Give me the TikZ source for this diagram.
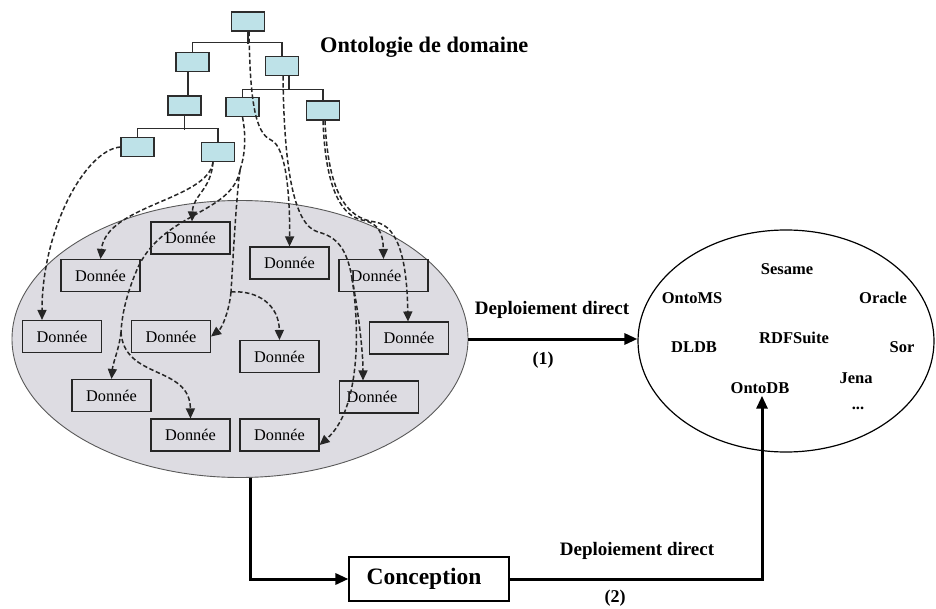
\documentclass[tikz,border=0pt]{standalone}
\usepackage{fontspec}
\setmainfont{Liberation Serif}
\usetikzlibrary{arrows.meta,shapes.geometric}
\definecolor{ellgray}{RGB}{221,220,226}
\definecolor{treeblue}{RGB}{190,226,232}
\definecolor{linegray}{RGB}{45,45,45}
\begin{document}
\begin{tikzpicture}[x=1pt,y=-1pt,
  tbox/.style={draw=linegray,line width=1.1pt,fill=treeblue,minimum width=33pt,minimum height=19pt,inner sep=0pt},
  tline/.style={draw=linegray,line width=1.1pt},
  dbox/.style={draw=black!85,line width=1.1pt,minimum width=79pt,minimum height=32pt,inner sep=0pt,font=\fontsize{16.3}{18}\selectfont},
  dlink/.style={draw=black!85,line width=1.5pt,dash pattern=on 4.5pt off 2.5pt,-{Triangle[length=10pt,width=9pt]}},
  dline/.style={draw=black!85,line width=1.5pt,dash pattern=on 4.5pt off 2.5pt},
  bigarrow/.style={draw=black,line width=3pt,-{Triangle[length=13pt,width=11pt]}},
  lbl/.style={font=\bfseries\fontsize{16.5}{19}\selectfont,inner sep=0pt},
]
\useasboundingbox (0,0) rectangle (936,609);

% ellipses
\node[ellipse,draw=black!65,line width=0.9pt,fill=ellgray,minimum width=456pt,minimum height=277pt,inner sep=0pt] (E1) at (240,339) {};
\node[ellipse,draw=black,line width=1.2pt,fill=white,minimum width=296pt,minimum height=222pt,inner sep=0pt] (E2) at (786,341) {};

% data boxes
\node[dbox] (d1) at (190.5,238) {Donnée};
\node[dbox] (d2) at (100.5,275.5) {Donnée};
\node[dbox] (d3) at (289.5,263) {Donnée};
\node[dbox,minimum width=89pt] (d4) at (383.5,275.5) {Donnée\hspace*{15pt}};
\node[dbox] (d5) at (62,336.5) {Donnée};
\node[dbox] (d6) at (171,336.5) {Donnée};
\node[dbox] (d7) at (279.5,356.5) {Donnée};
\node[dbox] (d8) at (409,338) {Donnée};
\node[dbox] (d9) at (111.5,395.5) {Donnée};
\node[dbox] (d10) at (379,397) {Donnée\hspace*{14pt}};
\node[dbox] (d11) at (190.5,435) {Donnée};
\node[dbox] (d12) at (279.5,435) {Donnée};

% ontology tree
\node[tbox] (r) at (248,21.5) {};
\node[tbox] (a) at (192.5,62) {};
\node[tbox] (b) at (282,66) {};
\node[tbox] (a1) at (184.5,105.5) {};
\node[tbox] (b1) at (242.5,107) {};
\node[tbox] (b2) at (323,110.5) {};
\node[tbox] (a11) at (137.5,147) {};
\node[tbox] (a12) at (218,152) {};

\draw[tline] (r.south) -- ++(0,12);
\draw[tline] (a.north) -- ++(0,-9) -| (b.north);
\draw[tline] ([xshift=-4.5pt]a.south) -- ([xshift=-4.5pt]a.south |- a1.north);
\draw[tline] (a1.south) -- ++(0,14);
\draw[tline] (a11.north) -- ++(0,-8) -| (a12.north);
\draw[tline] ([xshift=7pt]b.south) -- ++(0,14);
\draw[tline] (b1.north) -- ++(0,-7) -| (b2.north);

\node[font=\bfseries\fontsize{22.3}{26}\selectfont,anchor=west,inner sep=0pt] (title) at (320,47) {Ontologie de domaine};

% junction coordinates
\coordinate (J1) at (240,170);
\coordinate (J2) at (231,292);
\coordinate (J3) at (121,332);
\coordinate (W1) at (271,140);
\coordinate (J4) at (352,278);

% dashed links
\draw[dlink] (a11.west) .. controls (85,150) and (42,230) .. ([xshift=-20pt]d5.north);
\draw[dlink] ([xshift=-5pt]a12.south) .. controls (211,190) and (193,195) .. ([xshift=1.5pt]d1.north);
\draw[dlink] ([xshift=-5pt]a12.south) .. controls (208,200) and (106,205) .. (d2.north);

\draw[dline] (b1.south) .. controls (247,140) and (244,158) .. (J1);
\draw[dline] (J1) .. controls (236,200) and (233,260) .. (J2);
\draw[dlink] (J2) .. controls (229,312) and (222,328) .. (d6.east);
\draw[dlink] (J2) .. controls (258,290) and (279,305) .. (d7.north);
\draw[dline] (J1) .. controls (232,215) and (160,212) .. (136,272) .. controls (126,296) and (122,315) .. (J3);
\draw[dlink] (J3) .. controls (119,350) and (113,362) .. (d9.north);
\draw[dlink] (J3) .. controls (124,380) and (190,365) .. (d11.north);

\draw[dlink] ([xshift=1pt]r.south) .. controls (250,100) and (255,133) .. (W1) .. controls (287,147) and (290,200) .. (d3.north);

\draw[dline] ([xshift=1pt]b.south) .. controls (284,165) and (293,225) .. (318,232) .. controls (338,237) and (347,250) .. (J4);
\draw[dlink] (J4) .. controls (358,310) and (363,350) .. ([xshift=-16pt]d10.north);
\draw[dlink] (J4) .. controls (360,330) and (360,410) .. ([yshift=-10pt]d12.east);

\draw[dlink] (b2.south) .. controls (325,180) and (338,215) .. (362,220) .. controls (378,223) and (383,232) .. (d4.north);
\draw[dlink] ([xshift=2pt]b2.south) .. controls (328,190) and (345,218) .. (375,222) .. controls (400,226) and (407,265) .. ([xshift=-1pt]d8.north);

% right ellipse labels
\node[lbl] (sesame) at (787,269) {Sesame};
\node[lbl] (ontoms) at (692,298) {OntoMS};
\node[lbl] (oracle) at (883,298) {Oracle};
\node[lbl] (rdfsuite) at (794,338) {RDFSuite};
\node[lbl] (dldb) at (694,347) {DLDB};
\node[lbl] (sor) at (902,347) {Sor};
\node[lbl] (jena) at (856,378) {Jena};
\node[lbl,inner sep=2pt] (ontodb) at (760,388) {OntoDB};
\node[lbl] (dots) at (858,408) {...};

% deployment (1)
\draw[bigarrow] (E1.east) -- (E1.east -| E2.west);
\node[font=\bfseries\fontsize{19}{22}\selectfont,inner sep=0pt] (dep1) at (552,310) {Deploiement direct};
\node[font=\bfseries\fontsize{18}{21}\selectfont,inner sep=0pt] (n1) at (543,360) {(1)};

% conception path (2)
\node[draw=black,line width=1.1pt,fill=white,minimum width=160pt,minimum height=44pt,inner sep=0pt,font=\bfseries\fontsize{23.5}{26}\selectfont] (C) at (429,579) {Conception\hspace*{10pt}};
\draw[bigarrow] ([xshift=10pt]E1.south) |- (C.west);
\draw[bigarrow] (C.east) -| ([xshift=2pt]ontodb.south);
\node[font=\bfseries\fontsize{19}{22}\selectfont,inner sep=0pt] (dep2) at (637,551) {Deploiement direct};
\node[font=\bfseries\fontsize{18}{21}\selectfont,inner sep=0pt] (n2) at (615,598) {(2)};
\end{tikzpicture}
\end{document}
